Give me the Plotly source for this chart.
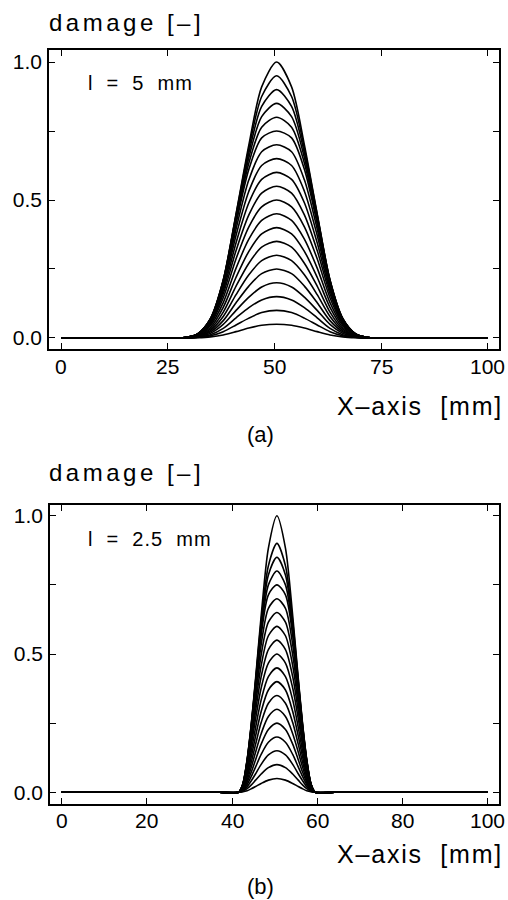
import plotly.graph_objects as go

# ---------------- data ----------------
# panel (a): l = 5 mm
x_a = [0, 25, 29, 32, 35, 38, 41, 44, 47, 50.5, 54, 57, 60, 63, 66, 69, 72, 76, 100]
peaks_a = [0.05, 0.10, 0.15, 0.20, 0.25, 0.30, 0.35, 0.40, 0.45, 0.50,
           0.55, 0.60, 0.65, 0.70, 0.75, 0.80, 0.85, 0.90, 0.95, 1.00]
damage_a = [
    [0, 0, 0.000, 0.001, 0.004, 0.011, 0.023, 0.036, 0.046, 0.050, 0.046, 0.036, 0.023, 0.011, 0.004, 0.001, 0.000, 0, 0],
    [0, 0, 0.000, 0.002, 0.008, 0.023, 0.047, 0.072, 0.092, 0.100, 0.092, 0.072, 0.047, 0.023, 0.008, 0.002, 0.000, 0, 0],
    [0, 0, 0.000, 0.003, 0.012, 0.035, 0.073, 0.110, 0.138, 0.150, 0.138, 0.110, 0.073, 0.035, 0.012, 0.003, 0.000, 0, 0],
    [0, 0, 0.000, 0.004, 0.017, 0.049, 0.100, 0.148, 0.185, 0.200, 0.185, 0.148, 0.100, 0.049, 0.017, 0.004, 0.000, 0, 0],
    [0, 0, 0.001, 0.005, 0.022, 0.063, 0.128, 0.188, 0.233, 0.250, 0.233, 0.188, 0.128, 0.063, 0.022, 0.005, 0.001, 0, 0],
    [0, 0, 0.001, 0.006, 0.027, 0.078, 0.157, 0.229, 0.280, 0.300, 0.280, 0.229, 0.157, 0.078, 0.027, 0.006, 0.001, 0, 0],
    [0, 0, 0.001, 0.007, 0.032, 0.094, 0.188, 0.271, 0.329, 0.350, 0.329, 0.271, 0.188, 0.094, 0.032, 0.007, 0.001, 0, 0],
    [0, 0, 0.001, 0.008, 0.038, 0.111, 0.220, 0.314, 0.377, 0.400, 0.377, 0.314, 0.220, 0.111, 0.038, 0.008, 0.001, 0, 0],
    [0, 0, 0.001, 0.010, 0.045, 0.128, 0.253, 0.358, 0.426, 0.450, 0.426, 0.358, 0.253, 0.128, 0.045, 0.010, 0.001, 0, 0],
    [0, 0, 0.001, 0.011, 0.051, 0.146, 0.287, 0.403, 0.475, 0.500, 0.475, 0.403, 0.287, 0.146, 0.051, 0.011, 0.001, 0, 0],
    [0, 0, 0.002, 0.012, 0.055, 0.160, 0.317, 0.446, 0.525, 0.550, 0.525, 0.446, 0.317, 0.160, 0.055, 0.012, 0.002, 0, 0],
    [0, 0, 0.002, 0.013, 0.059, 0.172, 0.345, 0.490, 0.575, 0.600, 0.575, 0.490, 0.345, 0.172, 0.059, 0.013, 0.002, 0, 0],
    [0, 0, 0.002, 0.013, 0.061, 0.182, 0.372, 0.532, 0.625, 0.650, 0.625, 0.532, 0.372, 0.182, 0.061, 0.013, 0.002, 0, 0],
    [0, 0, 0.002, 0.014, 0.064, 0.190, 0.395, 0.573, 0.675, 0.700, 0.675, 0.573, 0.395, 0.190, 0.064, 0.014, 0.002, 0, 0],
    [0, 0, 0.002, 0.014, 0.066, 0.197, 0.414, 0.611, 0.725, 0.750, 0.725, 0.611, 0.414, 0.197, 0.066, 0.014, 0.002, 0, 0],
    [0, 0, 0.002, 0.014, 0.067, 0.201, 0.425, 0.634, 0.764, 0.800, 0.764, 0.634, 0.425, 0.201, 0.067, 0.014, 0.002, 0, 0],
    [0, 0, 0.002, 0.015, 0.068, 0.205, 0.435, 0.654, 0.802, 0.850, 0.802, 0.654, 0.435, 0.205, 0.068, 0.015, 0.002, 0, 0],
    [0, 0, 0.002, 0.015, 0.069, 0.208, 0.442, 0.671, 0.839, 0.900, 0.839, 0.671, 0.442, 0.208, 0.069, 0.015, 0.002, 0, 0],
    [0, 0, 0.002, 0.015, 0.070, 0.209, 0.447, 0.687, 0.875, 0.950, 0.875, 0.687, 0.447, 0.209, 0.070, 0.015, 0.002, 0, 0],
    [0, 0, 0.002, 0.015, 0.070, 0.210, 0.450, 0.700, 0.910, 1.000, 0.910, 0.700, 0.450, 0.210, 0.070, 0.015, 0.002, 0, 0],
]

# panel (b): l = 2.5 mm
x_b = [0, 37, 41.5, 42.5, 43.5, 44.5, 45.5, 46.8, 48.5, 50.5, 52.5, 54.2, 55.5, 56.5, 57.5, 58.5, 59.5, 64, 100]
peaks_b = [0.05, 0.10, 0.15, 0.20, 0.25, 0.30, 0.35, 0.40, 0.45, 0.50,
           0.55, 0.60, 0.65, 0.70, 0.75, 0.80, 0.85, 0.90, 1.00]
damage_b = [
    [0, 0, 0, 0.002, 0.006, 0.013, 0.021, 0.032, 0.044, 0.050, 0.044, 0.032, 0.021, 0.013, 0.006, 0.002, 0, 0, 0],
    [0, 0, 0, 0.003, 0.013, 0.027, 0.044, 0.066, 0.089, 0.100, 0.089, 0.066, 0.044, 0.027, 0.013, 0.003, 0, 0, 0],
    [0, 0, 0, 0.005, 0.020, 0.042, 0.067, 0.101, 0.135, 0.150, 0.135, 0.101, 0.067, 0.042, 0.020, 0.005, 0, 0, 0],
    [0, 0, 0, 0.007, 0.028, 0.058, 0.092, 0.137, 0.181, 0.200, 0.181, 0.137, 0.092, 0.058, 0.028, 0.007, 0, 0, 0],
    [0, 0, 0, 0.009, 0.036, 0.074, 0.118, 0.174, 0.227, 0.250, 0.227, 0.174, 0.118, 0.074, 0.036, 0.009, 0, 0, 0],
    [0, 0, 0, 0.012, 0.044, 0.092, 0.146, 0.212, 0.274, 0.300, 0.274, 0.212, 0.146, 0.092, 0.044, 0.012, 0, 0, 0],
    [0, 0, 0, 0.014, 0.054, 0.110, 0.174, 0.252, 0.322, 0.350, 0.322, 0.252, 0.174, 0.110, 0.054, 0.014, 0, 0, 0],
    [0, 0, 0, 0.017, 0.063, 0.130, 0.204, 0.292, 0.370, 0.400, 0.370, 0.292, 0.204, 0.130, 0.063, 0.017, 0, 0, 0],
    [0, 0, 0, 0.019, 0.074, 0.150, 0.235, 0.334, 0.418, 0.450, 0.418, 0.334, 0.235, 0.150, 0.074, 0.019, 0, 0, 0],
    [0, 0, 0, 0.022, 0.084, 0.172, 0.267, 0.377, 0.467, 0.500, 0.467, 0.377, 0.267, 0.172, 0.084, 0.022, 0, 0, 0],
    [0, 0, 0, 0.024, 0.091, 0.188, 0.295, 0.418, 0.516, 0.550, 0.516, 0.418, 0.295, 0.188, 0.091, 0.024, 0, 0, 0],
    [0, 0, 0, 0.025, 0.097, 0.203, 0.321, 0.458, 0.566, 0.600, 0.566, 0.458, 0.321, 0.203, 0.097, 0.025, 0, 0, 0],
    [0, 0, 0, 0.026, 0.102, 0.215, 0.344, 0.497, 0.615, 0.650, 0.615, 0.497, 0.344, 0.215, 0.102, 0.026, 0, 0, 0],
    [0, 0, 0, 0.027, 0.106, 0.225, 0.365, 0.534, 0.665, 0.700, 0.665, 0.534, 0.365, 0.225, 0.106, 0.027, 0, 0, 0],
    [0, 0, 0, 0.028, 0.110, 0.234, 0.382, 0.567, 0.714, 0.750, 0.714, 0.567, 0.382, 0.234, 0.110, 0.028, 0, 0, 0],
    [0, 0, 0, 0.029, 0.112, 0.239, 0.392, 0.586, 0.750, 0.800, 0.750, 0.586, 0.392, 0.239, 0.112, 0.029, 0, 0, 0],
    [0, 0, 0, 0.029, 0.114, 0.244, 0.400, 0.603, 0.786, 0.850, 0.786, 0.603, 0.400, 0.244, 0.114, 0.029, 0, 0, 0],
    [0, 0, 0, 0.030, 0.116, 0.247, 0.406, 0.617, 0.819, 0.900, 0.819, 0.617, 0.406, 0.247, 0.116, 0.030, 0, 0, 0],
    [0, 0, 0, 0.030, 0.117, 0.250, 0.413, 0.638, 0.883, 1.000, 0.883, 0.638, 0.413, 0.250, 0.117, 0.030, 0, 0, 0],
]

xticks_a = [0, 25, 50, 75, 100]
xticks_b = [0, 20, 40, 60, 80, 100]
yticks = [0, 0.25, 0.5, 0.75, 1.0]
yticklabels = ["0.0", "", "0.5", "", "1.0"]

# ---------------- figure ----------------
W, H = 508, 900
FONT = "Liberation Sans, Arial, Helvetica, sans-serif"

fig = go.Figure()
line_style = dict(color="black", width=1.6, shape="spline", smoothing=0.8)
for p, row in zip(peaks_a, damage_a):
    fig.add_trace(go.Scatter(x=x_a, y=row, mode="lines", line=line_style,
                             xaxis="x", yaxis="y", showlegend=False, name=f"{p:.2f}"))
for p, row in zip(peaks_b, damage_b):
    fig.add_trace(go.Scatter(x=x_b, y=row, mode="lines", line=line_style,
                             xaxis="x2", yaxis="y2", showlegend=False, name=f"{p:.2f}"))

def px_x(px):
    return px / W

def px_y(py):
    return 1 - py / H

axis_common = dict(showline=True, linecolor="black", linewidth=1.6, mirror="ticks",
                   ticks="inside", ticklen=6, tickwidth=1.3, tickcolor="black",
                   showgrid=False, zeroline=False,
                   tickfont=dict(family=FONT, size=21, color="black"))

fig.update_layout(
    width=W, height=H,
    margin=dict(l=0, r=0, t=0, b=0),
    paper_bgcolor="white", plot_bgcolor="white",
    xaxis=dict(domain=[px_x(49), px_x(499)], range=[-2.81, 102.58], anchor="y",
               tickvals=xticks_a, showticklabels=False, **axis_common),
    yaxis=dict(domain=[px_y(349), px_y(50)], range=[-0.0399, 1.0435], anchor="x",
               tickvals=yticks, ticktext=yticklabels, ticklabelstandoff=1, **axis_common),
    xaxis2=dict(domain=[px_x(50), px_x(499)], range=[-2.74, 102.6], anchor="y2",
                tickvals=xticks_b, showticklabels=False, **axis_common),
    yaxis2=dict(domain=[px_y(804), px_y(505)], range=[-0.0423, 1.0387], anchor="x2",
                tickvals=yticks, ticktext=yticklabels, ticklabelstandoff=1, **axis_common),
)

# x tick labels placed on the data scale of each x axis
for v in xticks_a:
    fig.add_annotation(xref="x", yref="paper", x=v, y=px_y(366), text=str(v),
                       xanchor="center", yanchor="middle", showarrow=False,
                       font=dict(family=FONT, size=21, color="black"))
for v in xticks_b:
    fig.add_annotation(xref="x2", yref="paper", x=v, y=px_y(820), text=str(v),
                       xanchor="center", yanchor="middle", showarrow=False,
                       font=dict(family=FONT, size=21, color="black"))

def spaced(t, sp):
    return f'<span style="letter-spacing:{sp}px">{t}</span>'

NB = "\u00a0"
annots = [
    # panel (a)
    dict(text=spaced(f"damage{NB}[–]", 3.5), x=px_x(47), y=px_y(22), xanchor="left", yanchor="middle", size=24),
    dict(text=spaced(f"l{NB}{NB}={NB}{NB}5{NB}{NB}mm", 1), x=px_x(86), y=px_y(83), xanchor="left", yanchor="middle", size=20),
    dict(text=spaced(f"X–axis{NB}{NB}[mm]", 1.8), x=px_x(505), y=px_y(406), xanchor="right", yanchor="middle", size=25),
    dict(text="(a)", x=px_x(260), y=px_y(434), xanchor="center", yanchor="middle", size=22),
    # panel (b)
    dict(text=spaced(f"damage{NB}[–]", 3.5), x=px_x(47), y=px_y(472), xanchor="left", yanchor="middle", size=24),
    dict(text=spaced(f"l{NB}{NB}={NB}{NB}2.5{NB}{NB}mm", 1), x=px_x(86), y=px_y(539), xanchor="left", yanchor="middle", size=20),
    dict(text=spaced(f"X–axis{NB}{NB}[mm]", 1.8), x=px_x(505), y=px_y(854), xanchor="right", yanchor="middle", size=25),
    dict(text="(b)", x=px_x(260), y=px_y(886), xanchor="center", yanchor="middle", size=22),
]
for a in annots:
    size = a.pop("size")
    fig.add_annotation(xref="paper", yref="paper", showarrow=False,
                       font=dict(family=FONT, size=size, color="black"), **a)

fig.write_html("out.html")
